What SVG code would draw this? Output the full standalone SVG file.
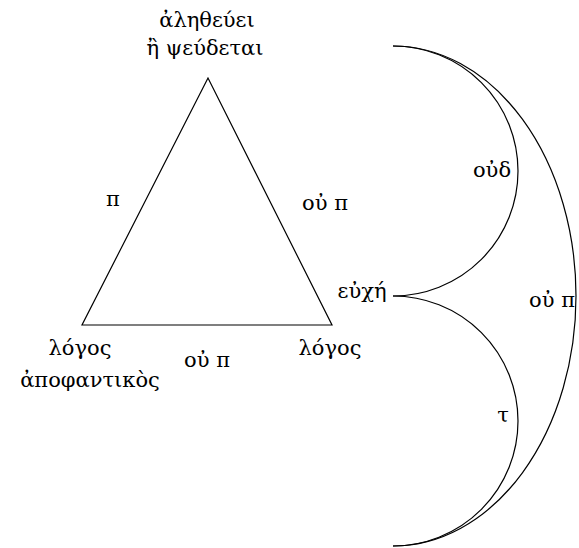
<svg xmlns="http://www.w3.org/2000/svg" width="579" height="548" viewBox="0 0 579 548">
<style>
text{font-family:"DejaVu Serif","Liberation Serif",serif;font-size:21px;fill:#000;text-anchor:middle}
.l{fill:none;stroke:#000;stroke-width:1.2}
</style>
<rect width="579" height="548" fill="#fff"/>
<g id="connectors">
<path class="l" d="M208,78 L82,325 L332,325 Z"/>
<path class="l" d="M393,296 A125,125 0 0 0 393,46"/>
<path class="l" d="M393,296 A125,125 0 0 1 393,546"/>
<path class="l" d="M393,46 A183,250 0 0 1 393,546"/>
</g>
<g id="n_top"><text x="207" y="27">ἀληθεύει</text><text x="205" y="55">ἢ ψεύδεται</text></g>
<g id="n_left"><text x="80" y="355">λόγος</text><text x="90" y="387">ἀποφαντικὸς</text></g>
<g id="n_right"><text x="330" y="355">λόγος</text></g>
<g id="n_euche"><text x="362" y="298">εὐχή</text></g>
<g id="labels">
<text x="113" y="206">π</text>
<text x="325" y="210">οὐ π</text>
<text x="207" y="367">οὐ π</text>
<text x="492" y="177">οὐδ</text>
<text x="552" y="307">οὐ π</text>
<text x="503" y="422">τ</text>
</g>
</svg>
